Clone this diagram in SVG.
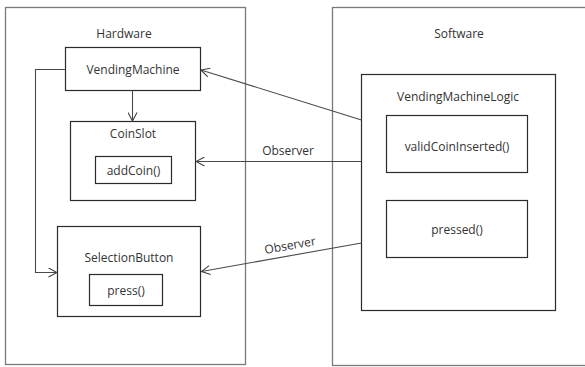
<svg xmlns="http://www.w3.org/2000/svg" width="585" height="367" viewBox="0 0 585 367">
  <defs>
    <marker id="open-arrow" viewBox="0 0 10 10" refX="9.5" refY="5" markerWidth="10" markerHeight="10" markerUnits="userSpaceOnUse" orient="auto">
      <path d="M1,0.5 L9.5,5 L1,9.5" fill="none" stroke="#404040" stroke-width="1.1"/>
    </marker>
  </defs>
  <style>
    .frame { fill: none; stroke: #7a7a7a; stroke-width: 1.3; }
    .box { fill: #ffffff; stroke: #2b2b2b; stroke-width: 1.2; }
    .label { font-family: "Open Sans", "Noto Sans", sans-serif; font-size: 12px; fill: #333333; text-anchor: middle; dominant-baseline: central; }
    .conn { fill: none; stroke: #4a4a4a; stroke-width: 1.1; }
  </style>
  <rect width="585" height="367" fill="#ffffff"/>

  <!-- Hardware frame -->
  <g id="hardware">
    <rect class="frame" x="5.5" y="7.5" width="240" height="357"/>
    <text class="label" x="124" y="33">Hardware</text>
  </g>

  <!-- Software frame (runs past the right edge) -->
  <g id="software">
    <rect class="frame" x="332.5" y="7.5" width="270" height="358"/>
    <text class="label" x="459" y="33">Software</text>
  </g>

  <g id="vending-machine">
    <rect class="box" x="65.5" y="47.5" width="135" height="43"/>
    <text class="label" x="133" y="69">VendingMachine</text>
  </g>

  <g id="coin-slot">
    <rect class="box" x="70.5" y="121.5" width="125" height="79"/>
    <text class="label" x="133" y="133">CoinSlot</text>
    <rect class="box" x="95.5" y="156.5" width="76" height="27"/>
    <text class="label" x="133.5" y="170">addCoin()</text>
  </g>

  <g id="selection-button">
    <rect class="box" x="57.5" y="226.5" width="143" height="90"/>
    <text class="label" x="129" y="257.5">SelectionButton</text>
    <rect class="box" x="89.5" y="274.5" width="73" height="31"/>
    <text class="label" x="126" y="290">press()</text>
  </g>

  <g id="vending-machine-logic">
    <rect class="box" x="361.5" y="74.5" width="194" height="236"/>
    <text class="label" x="458" y="96">VendingMachineLogic</text>
    <rect class="box" x="386.5" y="115.5" width="141" height="57"/>
    <text class="label" x="457" y="146">validCoinInserted()</text>
    <rect class="box" x="386.5" y="200.5" width="141" height="57"/>
    <text class="label" x="457" y="229">pressed()</text>
  </g>

  <g id="connectors">
    <line class="conn" x1="132.5" y1="90.5" x2="132.5" y2="121" marker-end="url(#open-arrow)"/>
    <polyline class="conn" points="65.5,69.5 35.5,69.5 35.5,272.5 57,272.5" marker-end="url(#open-arrow)"/>
    <line class="conn" x1="361.5" y1="120" x2="201" y2="70" marker-end="url(#open-arrow)"/>
    <line class="conn" x1="361.5" y1="161.5" x2="196" y2="161.5" marker-end="url(#open-arrow)"/>
    <text class="label" x="288" y="150">Observer</text>
    <line class="conn" x1="361.5" y1="243" x2="201.5" y2="271.5" marker-end="url(#open-arrow)"/>
    <text class="label" x="290" y="245" transform="rotate(-10 290 245)">Observer</text>
  </g>
</svg>
